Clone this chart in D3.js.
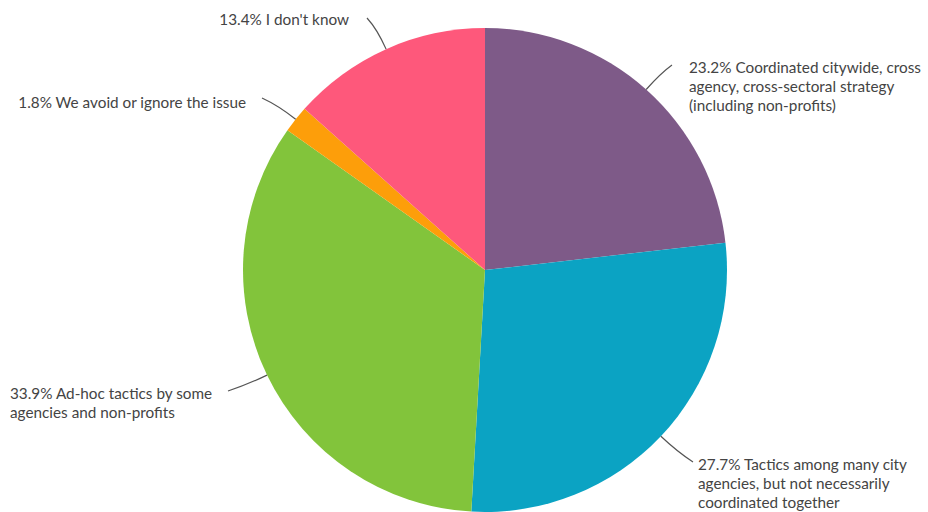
<!DOCTYPE html>
<html><head><meta charset="utf-8">
<script src="https://cdn.jsdelivr.net/npm/d3@7"></script>
<style>body{margin:0;background:#fff}svg{display:block}</style>
</head><body>
<script>
const categories = [
  "Coordinated citywide, cross agency, cross-sectoral strategy (including non-profits)",
  "Tactics among many city agencies, but not necessarily coordinated together",
  "Ad-hoc tactics by some agencies and non-profits",
  "We avoid or ignore the issue",
  "I don't know"
];
const values = [23.2, 27.7, 33.9, 1.8, 13.4];
const labelLines = [
  ["23.2% Coordinated citywide, cross", "agency, cross-sectoral strategy", "(including non-profits)"],
  ["27.7% Tactics among many city", "agencies, but not necessarily", "coordinated together"],
  ["33.9% Ad-hoc tactics by some", "agencies and non-profits"],
  ["1.8% We avoid or ignore the issue"],
  ["13.4% I don't know"]
];
const colors = ["#7e5a88", "#0ba3c3", "#82c43b", "#fd9e0a", "#fe587b"];

// layout: leader end point, text anchor position
const labelLayout = [
  {end:[672,65], tx:689, ty:73, anchor:"start"},
  {end:[693,462], tx:698, ty:470, anchor:"start"},
  {end:[228,391], tx:10, ty:399, anchor:"start"},
  {end:[262,98], tx:246, ty:108, anchor:"end"},
  {end:[367,18], tx:349, ty:25, anchor:"end"}
];

const W = 928, H = 512, cx = 485, cy = 270, R = 242;
const svg = d3.select("body").append("svg").attr("width", W).attr("height", H);
const g = svg.append("g").attr("transform", `translate(${cx},${cy})`);

const pie = d3.pie().sort(null).value(d => d);
const arcs = pie(values);
const arc = d3.arc().innerRadius(0).outerRadius(R);

g.selectAll("path.slice").data(arcs).join("path")
  .attr("class", "slice")
  .attr("d", arc)
  .attr("fill", (d, i) => colors[i]);

arcs.forEach((d, i) => {
  const mid = (d.startAngle + d.endAngle) / 2;
  const p0 = [cx + R * Math.sin(mid), cy - R * Math.cos(mid)];
  const L = labelLayout[i];
  const ctrlR = R + 22;
  const c = [cx + ctrlR * Math.sin(mid), cy - ctrlR * Math.cos(mid)];
  const path = d3.path();
  path.moveTo(p0[0], p0[1]);
  path.quadraticCurveTo(c[0], c[1], L.end[0], L.end[1]);
  svg.append("path").attr("d", path.toString())
    .attr("fill", "none").attr("stroke", "#555").attr("stroke-width", 1.2);

  const t = svg.append("text")
    .attr("x", L.tx).attr("y", L.ty)
    .attr("text-anchor", L.anchor)
    .attr("font-family", "Lato, 'Open Sans', sans-serif")
    .attr("font-size", 15.3)
    .attr("fill", "#444");
  labelLines[i].forEach((line, k) => {
    t.append("tspan").attr("x", L.tx).attr("dy", k === 0 ? 0 : 19).text(line);
  });
});
</script>
</body></html>
